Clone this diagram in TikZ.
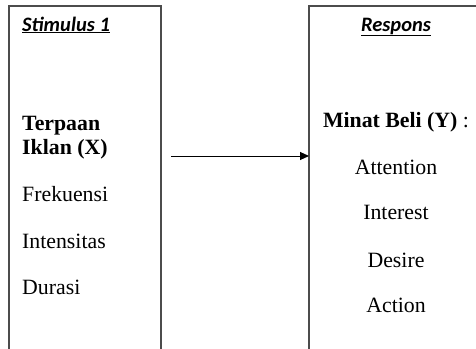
\documentclass[tikz,border=0pt]{standalone}
\usepackage{fontspec}
\setmainfont{Liberation Serif}
\newfontfamily\calibri{Carlito}
\usetikzlibrary{arrows.meta}
\tikzset{
Boite/.style={
 draw=black!70,
 line width=1.6pt
 },
Titre/.style={
 inner sep=0pt,
 font=\calibri\fontsize{20.5}{24}\selectfont\bfseries\itshape
 },
Texte/.style={
 inner sep=0pt,
 font=\fontsize{21.8}{26}\selectfont
 },
Fleche/.style={
 draw=black,
 line width=1pt,
 -{Triangle[length=9pt,width=8pt]}
 }
}
\begin{document}
\begin{tikzpicture}[x=1pt,y=-1pt]
\useasboundingbox (0,0) rectangle (476,348);
\draw[Boite] (9,352) -- (9,6) -- (161,6) -- (161,352);
\draw[Boite] (309,352) -- (309,6) -- (480,6);
\node[Titre,anchor=base west] (stim) at (22,31) {\underline{Stimulus 1}};
\node[Texte,anchor=base west,font=\fontsize{21.8}{26}\selectfont\bfseries] (terpaan) at (22,130) {Terpaan};
\node[Texte,anchor=base west,font=\fontsize{21.8}{26}\selectfont\bfseries] (iklan) at (22,154) {Iklan (X)};
\node[Texte,anchor=base west] (frek) at (22,201) {Frekuensi};
\node[Texte,anchor=base west] (inten) at (22,248) {Intensitas};
\node[Texte,anchor=base west] (durasi) at (22,294) {Durasi};
\node[Titre,anchor=base] (resp) at (396,31) {\underline{Respons}};
\node[Texte,anchor=base] (minat) at (396,127) {\textbf{Minat Beli (Y)} :};
\node[Texte,anchor=base] (att) at (396,174) {Attention};
\node[Texte,anchor=base] (inter) at (396,219) {Interest};
\node[Texte,anchor=base] (desire) at (396,267) {Desire};
\node[Texte,anchor=base] (action) at (396,312) {Action};
\coordinate (depart) at (171,156);
\coordinate (arrivee) at (309,156);
\draw[Fleche] (depart) -- (arrivee);
\end{tikzpicture}
\end{document}
